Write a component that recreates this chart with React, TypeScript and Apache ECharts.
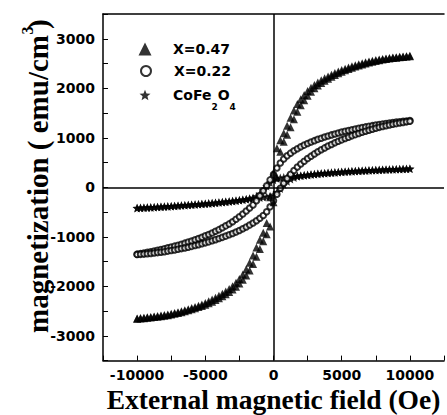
import React, { useEffect, useRef } from "react";
import * as echarts from "echarts";

// Field values (Oe), shared by every branch
const H = [
  -10000, -9750, -9500, -9250, -9000, -8750, -8500, -8250, -8000, -7750, -7500, -7250, -7000, -6750, -6500, -6250,
  -6000, -5750, -5500, -5250, -5000, -4750, -4500, -4250, -4000, -3750, -3500, -3250, -3000, -2750, -2500, -2250,
  -2000, -1750, -1500, -1250, -1000, -750, -500, -250, 0, 250, 500, 750, 1000, 1250, 1500, 1750, 2000, 2250, 2500,
  2750, 3000, 3250, 3500, 3750, 4000, 4250, 4500, 4750, 5000, 5250, 5500, 5750, 6000, 6250, 6500, 6750, 7000, 7250,
  7500, 7750, 8000, 8250, 8500, 8750, 9000, 9250, 9500, 9750, 10000,
];

// X=0.47 (triangles): descending and ascending branches
const A_DOWN = [
  -2648, -2641, -2634, -2626, -2618, -2610, -2601, -2591, -2580, -2567, -2552, -2537, -2521, -2501, -2481, -2461,
  -2440, -2415, -2390, -2365, -2335, -2303, -2268, -2232, -2192, -2150, -2105, -2055, -1998, -1930, -1850, -1760,
  -1655, -1525, -1375, -1215, -1060, -920, -720, -200, 300, 790, 950, 1090, 1245, 1405, 1550, 1680, 1780, 1865, 1945,
  2010, 2065, 2115, 2160, 2200, 2240, 2275, 2310, 2340, 2370, 2395, 2420, 2445, 2465, 2485, 2505, 2525, 2540, 2555,
  2570, 2582, 2593, 2603, 2612, 2620, 2628, 2636, 2643, 2649, 2655,
];
const A_UP = [
  -2655, -2649, -2643, -2636, -2628, -2620, -2612, -2603, -2593, -2582, -2570, -2555, -2540, -2525, -2505, -2485,
  -2465, -2445, -2420, -2395, -2370, -2340, -2310, -2275, -2240, -2200, -2160, -2115, -2065, -2010, -1945, -1865,
  -1780, -1680, -1550, -1405, -1245, -1090, -950, -790, -300, 200, 720, 920, 1060, 1215, 1375, 1525, 1655, 1760, 1850,
  1930, 1998, 2055, 2105, 2150, 2192, 2232, 2268, 2303, 2335, 2365, 2390, 2415, 2440, 2461, 2481, 2501, 2521, 2537,
  2552, 2567, 2580, 2591, 2601, 2610, 2618, 2626, 2634, 2641, 2648,
];

// X=0.22 (open circles)
const B_DOWN = [
  -1350, -1338, -1326, -1313, -1300, -1286, -1271, -1256, -1240, -1223, -1206, -1188, -1169, -1149, -1128, -1106,
  -1083, -1059, -1034, -1008, -980, -952, -922, -889, -855, -818, -779, -739, -695, -647, -595, -540,
  -480, -420, -355, -270, -170, -70, 30, 150, 260, 390, 490, 570, 635, 690, 737, 779, 817, 852, 884,
  914, 942, 968, 992, 1015, 1037, 1058, 1078, 1097, 1115, 1132, 1148, 1164, 1179, 1193, 1207, 1220, 1233, 1245,
  1257, 1268, 1279, 1289, 1299, 1308, 1317, 1325, 1333, 1340, 1347,
];
const B_UP = [
  -1358, -1354, -1349, -1343, -1336, -1328, -1319, -1310, -1300, -1289, -1277, -1265, -1252, -1238, -1224, -1209,
  -1193, -1176, -1159, -1141, -1122, -1102, -1080, -1057, -1035, -1011, -986, -960, -933, -903, -872, -838,
  -802, -762, -720, -675, -625, -570, -495, -395, -270, -140, -20, 80, 180, 265, 340, 408, 470, 527, 580,
  629, 675, 718, 758, 796, 832, 866, 898, 929, 958, 986, 1013, 1039, 1064, 1088, 1111, 1133, 1154, 1174,
  1193, 1211, 1228, 1244, 1259, 1273, 1286, 1299, 1311, 1322, 1333,
];

// CoFe2O4 (stars)
const C_DOWN = [
  -418, -415, -412, -408, -405, -401, -397, -393, -389, -385, -381, -376, -372, -367, -362, -357,
  -352, -347, -342, -336, -331, -325, -319, -313, -306, -299, -292, -285, -277, -269, -260, -251,
  -241, -228, -210, -180, -130, -60, 20, 95, 150, 175, 190, 200, 208, 215, 222, 228, 235, 243, 251,
  259, 266, 273, 279, 285, 291, 296, 301, 306, 311, 315, 320, 324, 328, 332, 336, 339, 343, 346,
  349, 352, 355, 358, 361, 363, 366, 368, 371, 373, 375,
];
const C_UP = [
  -420, -417, -414, -410, -407, -403, -399, -395, -391, -387, -383, -378, -374, -369, -364, -359,
  -354, -349, -344, -338, -333, -327, -321, -315, -308, -301, -294, -287, -279, -271, -262, -253,
  -243, -232, -225, -218, -210, -200, -190, -175, -150, -100, -30, 50, 120, 165, 195, 218, 233, 241, 249,
  257, 264, 271, 277, 283, 289, 294, 299, 304, 309, 313, 318, 322, 326, 330, 334, 337, 341, 344,
  347, 350, 353, 356, 359, 361, 364, 366, 369, 371, 373,
];

const SERIES_NAMES = ["X=0.47", "X=0.22", "CoFe2O4"];
const X_TITLE = "External magnetic field (Oe)";
const Y_TITLE_MAIN = "magnetization ( emu/cm";
const Y_TITLE_SUP = "3";
const Y_TITLE_END = ")";

const STAR =
  "path://M50,0L62.93,32.2L97.55,34.55L70.92,56.8L79.39,90.45L50,72L20.61,90.45L29.08,56.8L2.45,34.55L37.07,32.2Z";

const pairs = (ys: number[]) => H.map((h, i) => [h, ys[i]]);

const TICK_FONT = { fontFamily: "DejaVu Sans", fontWeight: "bold" as const, fontSize: 14, color: "#000" };
const SERIF = '"Liberation Serif", "Times New Roman", serif';

export default function App() {
  const ref = useRef<HTMLDivElement>(null);

  useEffect(() => {
    if (!ref.current) return;
    const chart = echarts.init(ref.current, undefined, { renderer: "svg" });

    const axisLine = { show: true, onZero: false, lineStyle: { color: "#000", width: 1.5 } };
    const legendBase = (name: string, size: number, top: number, padLeft: number) => ({
      data: [name],
      left: 145 - size / 2,
      top,
      padding: 0,
      itemWidth: size,
      itemHeight: size,
      selectedMode: false,
      textStyle: { ...TICK_FONT, lineHeight: 14, padding: [0, 0, 0, padLeft] },
    });

    const starLegend: any = legendBase(SERIES_NAMES[2], 11, 78.5, 17.5);
    starLegend.formatter = () => "{a|CoFe}{s|2}{a|O}{s|4}";
    starLegend.textStyle.rich = {
      a: { ...TICK_FONT, lineHeight: 14, verticalAlign: "middle" },
      s: { ...TICK_FONT, fontSize: 9, lineHeight: 33, verticalAlign: "bottom" },
    };

    chart.setOption({
      animation: false,
      backgroundColor: "#fff",
      grid: { left: 103, top: 14, right: -4, bottom: 54.4, containLabel: false },
      xAxis: [
        {
          type: "value",
          min: -12500,
          max: 12500,
          interval: 2500,
          position: "bottom",
          axisLine,
          axisTick: { show: true, inside: true, length: 5, lineStyle: { color: "#000", width: 1 } },
          axisLabel: {
            ...TICK_FONT,
            margin: 7,
            formatter: (v: number) => (v % 5000 === 0 && Math.abs(v) <= 10000 ? String(v) : ""),
          },
          splitLine: { show: false },
        },
        {
          type: "value",
          min: -12500,
          max: 12500,
          interval: 2500,
          position: "top",
          axisLine,
          axisTick: { show: false },
          axisLabel: { show: false },
          splitLine: { show: false },
        },
      ],
      yAxis: [
        {
          type: "value",
          min: -3500,
          max: 3500,
          interval: 500,
          position: "left",
          axisLine,
          axisTick: { show: true, inside: true, length: 5, lineStyle: { color: "#000", width: 1 } },
          axisLabel: {
            ...TICK_FONT,
            margin: 8,
            formatter: (v: number) => (v % 1000 === 0 && Math.abs(v) <= 3000 ? String(v) : ""),
          },
          splitLine: { show: false },
        },
      ],
      legend: [
        legendBase(SERIES_NAMES[0], 13, 42, 16.5),
        legendBase(SERIES_NAMES[1], 10, 64, 18),
        starLegend,
      ],
      graphic: [
        {
          type: "text",
          x: 273.5,
          y: 399,
          silent: true,
          style: {
            text: X_TITLE,
            font: `bold 27.5px ${SERIF}`,
            fill: "#000",
            align: "center",
            verticalAlign: "middle",
          },
        },
        {
          type: "group",
          x: 37.5,
          y: 35,
          rotation: Math.PI / 2,
          silent: true,
          children: [
            {
              type: "text",
              x: 0,
              y: 0,
              style: { text: Y_TITLE_MAIN, font: `bold 29px ${SERIF}`, fill: "#000", align: "right", verticalAlign: "middle" },
            },
            {
              type: "text",
              x: 0.5,
              y: -10,
              style: { text: Y_TITLE_SUP, font: `bold 16px ${SERIF}`, fill: "#000", align: "left", verticalAlign: "middle" },
            },
            {
              type: "text",
              x: 6,
              y: 0,
              style: { text: Y_TITLE_END, font: `bold 29px ${SERIF}`, fill: "#000", align: "left", verticalAlign: "middle" },
            },
          ],
        },
      ],
      series: [
        {
          name: SERIES_NAMES[2],
          type: "scatter",
          symbol: STAR,
          symbolSize: 9,
          symbolKeepAspect: true,
          itemStyle: { color: "#000" },
          data: [...pairs(C_DOWN), ...pairs(C_UP)],
          markLine: {
            silent: true,
            symbol: "none",
            label: { show: false },
            lineStyle: { color: "#000", width: 1.5, type: "solid" },
            data: [{ xAxis: 0 }, { yAxis: 0 }],
          },
        },
        {
          name: SERIES_NAMES[1],
          type: "scatter",
          symbol: "emptyCircle",
          symbolSize: 5.5,
          itemStyle: { color: "#000", borderColor: "#000", borderWidth: 1.1 },
          data: [...pairs(B_DOWN), ...pairs(B_UP)],
        },
        {
          name: SERIES_NAMES[0],
          type: "scatter",
          symbol: "triangle",
          symbolSize: 8,
          itemStyle: { color: "#000" },
          data: [...pairs(A_DOWN), ...pairs(A_UP)],
        },
      ],
    });

    return () => chart.dispose();
  }, []);

  return <div ref={ref} style={{ position: "absolute", left: 0, top: 0, width: 447, height: 415 }} />;
}
